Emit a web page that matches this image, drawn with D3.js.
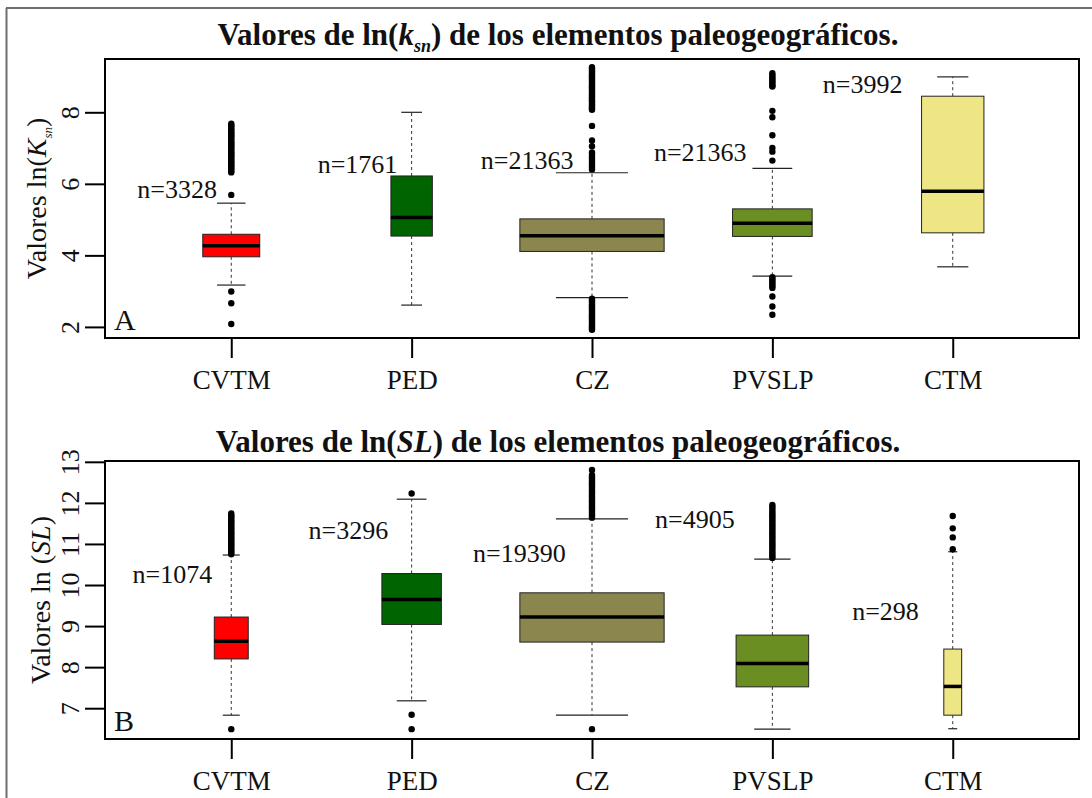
<!DOCTYPE html>
<html>
<head>
<meta charset="utf-8">
<script src="https://cdn.jsdelivr.net/npm/d3@7"></script>
<style>
  body { margin: 0; background: #fff; }
  text { font-family: "Liberation Serif", "Times New Roman", serif; fill: #111; }
</style>
</head>
<body>
<svg id="fig" width="1092" height="798"></svg>
<script>
// ---------- data ----------
const categories = ["CVTM", "PED", "CZ", "PVSLP", "CTM"];
const fillColors = ["#ff0000", "#006400", "#8b864e", "#6b8e23", "#eee685"];

// Panel A: ln(ksn)
const ksnLower  = [3.17, 2.61, 2.82, 3.42, 3.68];
const ksnQ1     = [3.96, 4.54, 4.11, 4.53, 4.63];
const ksnMedian = [4.27, 5.06, 4.55, 4.90, 5.79];
const ksnQ3     = [4.59, 6.22, 5.02, 5.30, 8.45];
const ksnUpper  = [5.46, 8.00, 6.31, 6.43, 8.99];
const ksnCounts = [3328, 1761, 21363, 6500, 3992];
const ksnLabels = ["n=3328", "n=1761", "n=21363", "n=21363", "n=3992"];
const ksnTicks  = [2, 4, 6, 8];
const ksnOutliers = [
  [7.68, 7.64, 7.60, 7.56, 7.52, 7.48, 7.44, 7.40, 7.36, 7.32, 7.28, 7.24, 7.20, 7.16, 7.12,
   7.08, 7.04, 7.00, 6.96, 6.92, 6.88, 6.84, 6.80, 6.76, 6.72, 6.68, 6.64, 6.60, 6.56, 6.52,
   6.48, 6.44, 6.40, 6.36, 6.32, 5.69, 2.99, 2.66, 2.08],
  [],
  [9.26, 9.22, 9.18, 9.14, 9.10, 9.06, 9.02, 8.98, 8.94, 8.90, 8.86, 8.82, 8.78, 8.74, 8.70,
   8.66, 8.62, 8.58, 8.54, 8.50, 8.46, 8.42, 8.38, 8.34, 8.30, 8.26, 8.22, 8.18, 8.14, 8.10,
   8.07, 7.62, 7.21, 7.05, 6.88, 6.82, 6.76, 6.70, 6.64, 6.58, 6.52, 6.46, 6.40,
   2.79, 2.75, 2.71, 2.67, 2.63, 2.59, 2.55, 2.51, 2.47, 2.43, 2.39, 2.35, 2.31, 2.27, 2.23,
   2.19, 2.15, 2.11, 2.07, 2.03, 1.99, 1.95, 1.92],
  [9.09, 9.04, 8.99, 8.94, 8.89, 8.84, 8.79, 8.74, 8.72, 8.04, 7.86, 7.36, 7.00, 6.90, 6.65,
   3.39, 3.34, 3.29, 3.24, 3.19, 3.14, 3.09, 2.85, 2.57, 2.34],
  []
];

// Panel B: ln(SL)
const slLower  = [6.83, 7.18, 6.83, 6.49, 6.50];
const slQ1     = [8.20, 9.04, 8.61, 7.52, 6.83];
const slMedian = [8.63, 9.65, 9.22, 8.09, 7.53];
const slQ3     = [9.22, 10.28, 9.81, 8.78, 8.44];
const slUpper  = [10.73, 12.09, 11.61, 10.63, 10.81];
const slCounts = [1074, 3296, 19390, 4905, 298];
const slLabels = ["n=1074", "n=3296", "n=19390", "n=4905", "n=298"];
const slTicks  = [7, 8, 9, 10, 11, 12, 13];
const slOutliers = [
  [11.74, 11.70, 11.66, 11.62, 11.58, 11.54, 11.50, 11.46, 11.42, 11.38, 11.34, 11.30, 11.26,
   11.22, 11.18, 11.14, 11.10, 11.06, 11.02, 10.98, 10.94, 10.90, 10.86, 10.82, 10.78, 10.75,
   6.49],
  [12.23, 6.84, 6.49],
  [12.80, 12.68, 12.64, 12.60, 12.56, 12.52, 12.48, 12.44, 12.40, 12.36, 12.32, 12.28, 12.24,
   12.20, 12.16, 12.12, 12.08, 12.04, 12.00, 11.96, 11.92, 11.88, 11.84, 11.80, 11.76, 11.72,
   11.68, 11.64, 6.49],
  [11.95, 11.90, 11.85, 11.80, 11.75, 11.70, 11.65, 11.60, 11.55, 11.50, 11.45, 11.40, 11.35,
   11.30, 11.25, 11.20, 11.15, 11.10, 11.05, 11.00, 10.95, 10.90, 10.85, 10.80, 10.75, 10.70,
   10.66],
  [11.68, 11.38, 11.16, 10.87]
];

// ---------- layout ----------
const svg = d3.select("#fig");
const plotLeft = 105, plotRight = 1079;

// outer frame of the figure
svg.append("line").attr("x1", 6).attr("x2", 1092).attr("y1", 8).attr("y2", 8)
  .attr("stroke", "#6e6e6e").attr("stroke-width", 2);
svg.append("line").attr("x1", 6.5).attr("x2", 6.5).attr("y1", 8).attr("y2", 798)
  .attr("stroke", "#6e6e6e").attr("stroke-width", 2);

function drawPanel(p) {
  const g = svg.append("g");
  const x = d3.scaleLinear().domain([0.3, 5.7]).range([plotLeft, plotRight]);
  const y = d3.scaleLinear().domain(p.domain).range([p.bottom, p.top]);
  const maxN = d3.max(p.counts);

  // title
  const t = g.append("text").attr("x", 558).attr("y", p.titleY)
    .attr("text-anchor", "middle").attr("font-weight", "bold").attr("font-size", 31);
  p.title(t);

  // boxes
  categories.forEach((c, i) => {
    const cx = x(i + 1);
    const halfW = (x(1 + 0.4 * Math.sqrt(p.counts[i] / maxN)) - x(1));
    const stapleW = halfW / 2;
    // whiskers (dashed)
    g.append("line").attr("x1", cx).attr("x2", cx)
      .attr("y1", y(p.q3[i])).attr("y2", y(p.upper[i]))
      .attr("stroke", "#333").attr("stroke-width", 1).attr("stroke-dasharray", "3,3");
    g.append("line").attr("x1", cx).attr("x2", cx)
      .attr("y1", y(p.q1[i])).attr("y2", y(p.lower[i]))
      .attr("stroke", "#333").attr("stroke-width", 1).attr("stroke-dasharray", "3,3");
    // staples
    [p.upper[i], p.lower[i]].forEach(v => {
      g.append("line").attr("x1", cx - stapleW).attr("x2", cx + stapleW)
        .attr("y1", y(v)).attr("y2", y(v)).attr("stroke", "#222").attr("stroke-width", 1.2);
    });
    // box
    g.append("rect").attr("x", cx - halfW).attr("width", 2 * halfW)
      .attr("y", y(p.q3[i])).attr("height", y(p.q1[i]) - y(p.q3[i]))
      .attr("fill", fillColors[i]).attr("stroke", "#222").attr("stroke-width", 1);
    // median
    g.append("line").attr("x1", cx - halfW).attr("x2", cx + halfW)
      .attr("y1", y(p.median[i])).attr("y2", y(p.median[i]))
      .attr("stroke", "#000").attr("stroke-width", 3.5);
    // outliers
    g.selectAll(null).data(p.outliers[i]).enter().append("circle")
      .attr("cx", cx).attr("cy", d => y(d)).attr("r", 3.2).attr("fill", "#000");
    // sample-size label
    g.append("text").attr("x", x(p.labelX[i])).attr("y", y(p.labelY[i]))
      .attr("dy", "0.35em").attr("text-anchor", "middle").attr("font-size", 26)
      .text(p.labels[i]);
  });

  // frame
  g.append("rect").attr("x", plotLeft).attr("y", p.top)
    .attr("width", plotRight - plotLeft).attr("height", p.bottom - p.top)
    .attr("fill", "none").attr("stroke", "#000").attr("stroke-width", 2);

  // y axis
  const yAxis = d3.axisLeft(y).tickValues(p.ticks).tickSize(20).tickPadding(0).tickFormat(d3.format("d"));
  const ya = g.append("g").attr("transform", `translate(${plotLeft},0)`).call(yAxis);
  ya.select(".domain").attr("stroke", "#000").attr("stroke-width", 2)
    .attr("d", `M0,${y(p.ticks[0])}V${y(p.ticks[p.ticks.length - 1])}`);
  ya.selectAll(".tick line").attr("stroke", "#000").attr("stroke-width", 2);
  ya.selectAll(".tick text").attr("font-size", 26).attr("fill", "#111")
    .attr("font-family", "Liberation Serif, serif")
    .attr("text-anchor", "middle").attr("x", 0)
    .attr("transform", "translate(-35,0) rotate(-90)").attr("y", 0).attr("dy", "0.35em");

  // x axis
  const xAxis = d3.axisBottom(x).tickValues(d3.range(1, categories.length + 1))
    .tickSize(20).tickPadding(12).tickFormat(d => categories[d - 1]);
  const xa = g.append("g").attr("transform", `translate(0,${p.bottom})`).call(xAxis);
  xa.select(".domain").remove();
  xa.selectAll(".tick line").attr("stroke", "#000").attr("stroke-width", 2);
  xa.selectAll(".tick text").attr("font-size", 27).attr("fill", "#111")
    .attr("font-family", "Liberation Serif, serif");

  // y axis title
  const yt = g.append("text").attr("transform", `translate(${p.yTitleX},${(p.top + p.bottom) / 2}) rotate(-90)`)
    .attr("text-anchor", "middle").attr("font-size", 28).attr("dy", "0.35em");
  p.yTitle(yt);

  // panel letter
  g.append("text").attr("x", 114).attr("y", p.bottom - 8).attr("font-size", 30).text(p.letter);
}

drawPanel({
  top: 59, bottom: 338, domain: [1.69, 9.49], titleY: 45, yTitleX: 36, letter: "A",
  lower: ksnLower, q1: ksnQ1, median: ksnMedian, q3: ksnQ3, upper: ksnUpper,
  counts: ksnCounts, labels: ksnLabels, ticks: ksnTicks, outliers: ksnOutliers,
  labelX: [0.70, 1.70, 2.64, 3.60, 4.50], labelY: [5.85, 6.55, 6.66, 6.90, 8.80],
  title: t => {
    t.append("tspan").text("Valores de ln(");
    t.append("tspan").attr("font-style", "italic").text("k");
    t.append("tspan").attr("font-style", "italic").attr("font-size", 18).attr("dy", 7).text("sn");
    t.append("tspan").attr("dy", -7).text(") de los elementos paleogeográficos.");
  },
  yTitle: t => {
    t.append("tspan").text("Valores ln(");
    t.append("tspan").attr("font-style", "italic").text("K");
    t.append("tspan").attr("font-style", "italic").attr("font-size", 13).attr("dy", 6).text("sn");
    t.append("tspan").attr("dy", -6).text(")");
  }
});

drawPanel({
  top: 461, bottom: 739, domain: [6.25, 13.02], titleY: 452, yTitleX: 40, letter: "B",
  lower: slLower, q1: slQ1, median: slMedian, q3: slQ3, upper: slUpper,
  counts: slCounts, labels: slLabels, ticks: slTicks, outliers: slOutliers,
  labelX: [0.674, 1.649, 2.597, 3.57, 4.627], labelY: [10.28, 11.34, 10.77, 11.61, 9.37],
  title: t => {
    t.append("tspan").text("Valores de ln(");
    t.append("tspan").attr("font-style", "italic").text("SL");
    t.append("tspan").text(") de los elementos paleogeográficos.");
  },
  yTitle: t => {
    t.append("tspan").text("Valores ln (");
    t.append("tspan").attr("font-style", "italic").text("SL");
    t.append("tspan").text(")");
  }
});
</script>
</body>
</html>
